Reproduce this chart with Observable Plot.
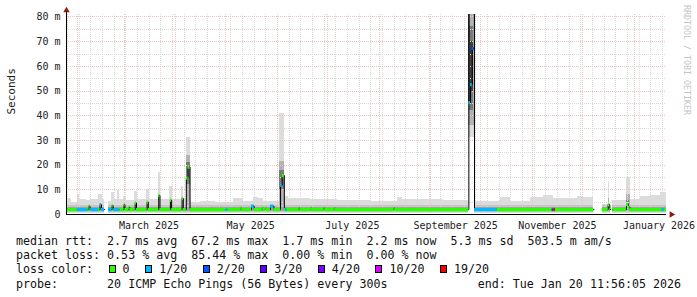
<!DOCTYPE html>
<html><head><meta charset="utf-8">
<script src="https://cdn.jsdelivr.net/npm/d3@7"></script>
<script src="https://cdn.jsdelivr.net/npm/@observablehq/plot@0.6"></script>
<style>
body{margin:0;background:#fff}
#wrap{position:relative;width:697px;height:297px;background:#fff;overflow:hidden}
#legend{position:absolute;left:16px;top:234.3px;width:665px;font-family:"DejaVu Sans Mono",monospace;font-size:11.65px;line-height:14.1px;color:#111;white-space:pre}
.row{display:flex;justify-content:space-between;height:14.1px}
.box{display:inline-block;width:5px;height:6px;border:1px solid #000;margin-left:1.5px}
#wm{position:absolute;left:682px;top:5px;writing-mode:vertical-rl;font-family:"DejaVu Sans Mono",monospace;font-size:8.3px;line-height:10px;color:#c4c4c4;white-space:nowrap}
</style></head>
<body><div id="wrap"><div id="chart"></div><div id="legend"></div><div id="wm">RRDTOOL / TOBI OETIKER</div></div>
<script>
// ---------- data ----------
const windowStart = "2025-01-25T11:56";
const windowEnd = "2026-01-20T11:56";

const yTicks = [0, 10, 20, 30, 40, 50, 60, 70, 80];
const xTickDates = ["2025-03-16", "2025-05-16", "2025-07-16", "2025-09-16", "2025-11-16", "2026-01-16"];
const xTickLabels = ["March 2025", "May 2025", "July 2025", "September 2025", "November 2025", "January 2026"];

const lossLabels = ["0", "1/20", "2/20", "3/20", "4/20", "10/20", "19/20"];

// smoke: [segment start, top of lightest smoke in ms] (null = no data)
const smokeTop = [
  ["2025-01-25T12:00", 6.3], ["2025-01-28T12:00", 5.0], ["2025-02-01", 8.3], ["2025-02-02T08:00", 6.2],
  ["2025-02-06T12:00", 5.6], ["2025-02-08T22:00", 6.2], ["2025-02-13T17:00", 8.0], ["2025-02-16T02:00", 6.0],
  ["2025-02-17T07:00", null], ["2025-02-19T18:00", 5.4], ["2025-02-21T18:00", 8.8], ["2025-02-23T00:00", 6.0],
  ["2025-02-25T02:00", 9.8], ["2025-02-26T08:00", 6.0], ["2025-02-28T17:00", 7.4], ["2025-03-02T12:00", 5.6],
  ["2025-03-07T12:00", 9.4], ["2025-03-09T02:00", 6.0], ["2025-03-14T16:00", 10.1], ["2025-03-16T00:00", 6.0],
  ["2025-03-21T12:00", 17.0], ["2025-03-22T18:00", 6.2], ["2025-03-28T12:00", 11.5], ["2025-03-29T20:00", 6.2],
  ["2025-04-04T12:00", 11.5], ["2025-04-05T20:00", 6.5], ["2025-04-07T09:00", 31.0], ["2025-04-09T22:00", 5.0],
  ["2025-04-15T22:00", 5.4], ["2025-04-25T00:00", 5.0], ["2025-05-05T17:00", 6.3], ["2025-05-11T17:00", 5.4],
  ["2025-05-17T17:00", 6.7], ["2025-05-20T17:00", 6.3], ["2025-05-23T17:00", 5.4], ["2025-06-02T08:00", 41.0],
  ["2025-06-05T07:00", 7.4], ["2025-06-07T17:00", 6.4], ["2025-06-20T22:00", 6.0], ["2025-07-07T02:00", 5.8],
  ["2025-07-26T22:00", 5.4], ["2025-08-12T02:00", 6.7], ["2025-08-15T02:00", 6.0], ["2025-09-08T17:00", 5.6],
  ["2025-09-23T22:00", null], ["2025-09-27T07:00", 5.4], ["2025-10-13T00:00", 6.7], ["2025-10-19T00:00", 5.4],
  ["2025-10-31T00:00", 6.7], ["2025-11-07T17:00", 7.8], ["2025-11-13T17:00", 6.3], ["2025-11-28T02:00", 7.4],
  ["2025-12-01T17:00", 6.7], ["2025-12-07T22:00", null], ["2025-12-12T22:00", 4.0], ["2025-12-16T12:00", 13.5],
  ["2025-12-17T12:00", 4.0], ["2025-12-17T22:00", null], ["2025-12-19T07:00", 5.7], ["2025-12-27T05:00", 14.8],
  ["2025-12-29T22:00", 6.1], ["2026-01-04T22:00", 7.4], ["2026-01-10T22:00", 7.8], ["2026-01-16T22:00", 8.8]
];
const smokeFloor = [0.6];      // lowest ping level (ms)
const midBand = [1.0, 3.6];    // denser smoke (ms)
const coreBand = [1.4, 3.0];   // densest smoke (ms)

// extra smoke at spikes: [from, to, low, high, density 0..3]
const spikeSmoke = [
  ["2025-04-07T09:00", "2025-04-09T15:00", 3.6, 24.0, 1],
  ["2025-04-07T09:00", "2025-04-09T15:00", 12.0, 21.0, 2],
  ["2025-06-02T08:00", "2025-06-05T07:00", 3.6, 21.6, 1],
  ["2025-06-02T08:00", "2025-06-05T07:00", 10.0, 18.0, 2],
  ["2025-09-23T22:00", "2025-09-27T07:00", 31.0, 81.0, 0],
  ["2025-09-23T23:00", "2025-09-27T06:00", 36.0, 81.0, 1],
  ["2025-09-24T05:00", "2025-09-26T22:00", 42.0, 76.0, 2],
  ["2025-09-25T00:00", "2025-09-26T22:00", 50.0, 70.0, 3],
  ["2025-12-16T12:00", "2025-12-17T12:00", 3.6, 6.5, 1],
  ["2025-12-27T05:00", "2025-12-29T22:00", 3.6, 8.0, 1],
  ["2025-12-27T12:00", "2025-12-29T14:00", 2.8, 5.5, 2]
];

// median rtt: [segment start, median ms (null = no data), loss class index (-1 = none)]
const medianSteps = [
  ["2025-01-25T12:00", 2.0, 0], ["2025-02-01", 2.0, 1], ["2025-02-07T10:00", 2.0, 0], ["2025-02-08T00:00", 3.4, 0],
  ["2025-02-08T14:00", 2.0, 0], ["2025-02-09T05:00", 2.0, 1], ["2025-02-13T17:00", 2.0, 0], ["2025-02-14T15:00", 4.0, 1],
  ["2025-02-15T12:00", 2.0, 1], ["2025-02-17T07:00", null, -1], ["2025-02-19T18:00", 2.0, 1], ["2025-02-21T20:00", 3.6, 0],
  ["2025-02-22T12:00", 2.0, 0], ["2025-02-23T00:00", 2.0, 1], ["2025-02-26T14:00", 2.0, 0], ["2025-03-01T00:00", 4.0, 0],
  ["2025-03-01T14:00", 2.0, 0], ["2025-03-04T00:00", 2.9, 0], ["2025-03-04T14:00", 2.0, 0], ["2025-03-07T17:00", 4.7, 0],
  ["2025-03-08T12:00", 2.0, 0], ["2025-03-14T20:00", 5.0, 0], ["2025-03-15T14:00", 2.0, 0], ["2025-03-21T20:00", 7.7, 0],
  ["2025-03-22T14:00", 2.0, 0], ["2025-03-28T20:00", 5.8, 0], ["2025-03-29T14:00", 2.0, 0], ["2025-04-04T20:00", 6.5, 0],
  ["2025-04-05T14:00", 2.0, 0], ["2025-04-07T09:00", 14.8, 0], ["2025-04-08T10:00", 19.2, 0], ["2025-04-09T15:00", 2.0, 0],
  ["2025-05-01T00:00", 2.0, 1], ["2025-05-02T08:00", 2.0, 0], ["2025-05-10T00:00", 2.6, 0], ["2025-05-10T14:00", 2.0, 0],
  ["2025-05-16T12:00", 3.4, 1], ["2025-05-18T02:00", 2.0, 0], ["2025-05-23T00:00", 2.6, 0], ["2025-05-23T14:00", 2.0, 0],
  ["2025-05-24T20:00", 2.6, 0], ["2025-05-25T10:00", 2.0, 0], ["2025-05-27T22:00", 3.4, 1], ["2025-05-29T22:00", 2.0, 0],
  ["2025-06-02T22:00", 11.9, 1], ["2025-06-03T22:00", 15.8, 0], ["2025-06-05T05:00", 2.0, 0], ["2025-06-05T22:00", 2.0, 1],
  ["2025-06-06T22:00", 2.0, 0], ["2025-06-13T22:00", 2.6, 0], ["2025-06-14T12:00", 2.0, 0], ["2025-06-20T22:00", 2.6, 0],
  ["2025-06-21T12:00", 2.0, 0], ["2025-06-28T22:00", 2.6, 0], ["2025-06-29T12:00", 2.0, 0], ["2025-07-05T06:00", 2.6, 0],
  ["2025-07-05T20:00", 2.0, 0], ["2025-08-09T22:00", 2.6, 0], ["2025-08-10T12:00", 2.0, 0],
  ["2025-09-23T22:00", 95.0, -1], ["2025-09-23T23:00", 45.3, 1], ["2025-09-24T22:00", 52.6, 1], ["2025-09-25T23:00", 67.2, 2],
  ["2025-09-27T06:00", 95.0, -1], ["2025-09-27T07:00", 2.0, 1], ["2025-10-11T00:00", 2.0, 0],
  ["2025-11-12T22:00", 2.0, 2], ["2025-11-13T22:00", 2.0, 6], ["2025-11-14T22:00", 2.0, 0],
  ["2025-12-07T22:00", null, -1], ["2025-12-12T22:00", 2.0, 0], ["2025-12-16T12:00", 4.0, 0], ["2025-12-17T12:00", 2.0, 0],
  ["2025-12-17T22:00", null, -1], ["2025-12-19T07:00", 2.0, 0], ["2025-12-27T12:00", 4.0, 0], ["2025-12-28T17:00", 3.0, 0],
  ["2025-12-29T14:00", 2.0, 0], ["2026-01-17T22:00", 2.0, 1], ["2026-01-19T07:00", 2.0, 0]
];

const rttStats = [["2.7 ms", "avg"], ["67.2 ms", "max"], ["1.7 ms", "min"], ["2.2 ms", "now"], ["5.3 ms", "sd"], ["503.5 m", "am/s"]];
const lossStats = [["0.53 %", "avg"], ["85.44 %", "max"], ["0.00 %", "min"], ["0.00 %", "now"]];
const probeText = "20 ICMP Echo Pings (56 Bytes) every 300s";
const endText = "end: Tue Jan 20 11:56:05 2026";

// ---------- styles ----------
const lossColors = ["#26ff00", "#00b8ff", "#0059ff", "#5e00ff", "#7e00ff", "#dd00ff", "#ff0000"];
const shades = ["#dcdcdc", "#b2b2b2", "#7a7a7a", "#404040"];

// ---------- build ----------
const P = s => new Date(s + (s.length === 10 ? "T00:00:00Z" : ":00Z"));
const start = P(windowStart), end = P(windowEnd);
const segs = rows => rows.map((r, i) => ({t1: P(r[0]), t2: i + 1 < rows.length ? P(rows[i + 1][0]) : end, v: r[1], loss: r[2]}));
const smoke = segs(smokeTop).filter(d => d.v != null);
const med = segs(medianSteps);
const medLine = [];
for (const d of med) {
  if (d.v == null) medLine.push({t: d.t1, v: NaN});
  else medLine.push({t: d.t1, v: d.v}, {t: d.t2, v: d.v});
}
const spikeRows = spikeSmoke.map(([a, b, lo, hi, s]) => ({x1: P(a), x2: P(b), lo, hi, s}));
const labelMap = new Map(xTickDates.map((d, i) => [+P(d), xTickLabels[i]]));
const months = d3.utcMonth.range(start, end);
const weeks = d3.utcSunday.range(start, end);
const majorY = yTicks.filter(v => v > 0);
const minorY = yTicks.map(v => v + 5).filter(v => v < 81);

const crisp = {shapeRendering: "crispEdges"};
const chart = Plot.plot({
  width: 697, height: 233, marginLeft: 66, marginRight: 31, marginTop: 14, marginBottom: 19,
  style: {fontFamily: "'DejaVu Sans Mono', monospace", fontSize: "10px", background: "#fff", color: "#222", overflow: "visible"},
  x: {type: "utc", domain: [start, end]},
  y: {domain: [0, 81]},
  marks: [
    Plot.rect(smoke, {x1: "t1", x2: "t2", y1: () => smokeFloor[0], y2: "v", fill: shades[0], clip: true, ...crisp}),
    Plot.rect(smoke, {x1: "t1", x2: "t2", y1: () => midBand[0], y2: () => midBand[1], fill: "#c6c6c6", ...crisp}),
    Plot.rect(smoke, {x1: "t1", x2: "t2", y1: () => coreBand[0], y2: () => coreBand[1], fill: "#a4a4a4", ...crisp}),
    Plot.rect(spikeRows, {x1: "x1", x2: "x2", y1: "lo", y2: "hi", fill: d => shades[d.s], clip: true, ...crisp}),
    Plot.gridX(weeks, {stroke: "#dadada", strokeOpacity: 1, strokeDasharray: "1,1", ...crisp}),
    Plot.gridY(minorY, {stroke: "#dadada", strokeOpacity: 1, strokeDasharray: "1,1", ...crisp}),
    Plot.gridX(months, {stroke: "#f2c2c2", strokeOpacity: 1, strokeDasharray: "1,1", ...crisp}),
    Plot.gridY(majorY, {stroke: "#f2c2c2", strokeOpacity: 1, strokeDasharray: "1,1", ...crisp}),
    Plot.line(medLine, {x: "t", y: "v", stroke: "#000", strokeWidth: 1, clip: true}),
    Plot.ruleY(med.filter(d => d.v != null && d.loss >= 0), {x1: "t1", x2: "t2", y: "v", stroke: d => lossColors[d.loss], strokeWidth: 3.3, clip: true}),
    Plot.ruleY([0], {stroke: "#000", ...crisp}),
    Plot.ruleX([start], {y1: () => 0, y2: () => 82.5, stroke: "#000", ...crisp}),
    Plot.dot([end], {x: d => d, y: () => 0, symbol: "triangle", rotate: 90, dx: 5, r: 2.4, fill: "#8b1a1a", stroke: "none"}),
    Plot.dot([start], {x: d => d, y: () => 81, symbol: "triangle", dy: -4, r: 2.4, fill: "#8b1a1a", stroke: "none"}),
    Plot.axisX(xTickDates.map(P), {tickSize: 0, tickPadding: 7, tickFormat: d => labelMap.get(+d), fill: "#222", label: null}),
    Plot.axisY(yTicks, {tickSize: 0, tickPadding: 6, tickFormat: d => d === 0 ? "0" : d + " m", fill: "#222", label: null}),
    Plot.text(["Seconds"], {text: d => d, frameAnchor: "left", dx: -55, rotate: -90, fontSize: 11, fill: "#222"})
  ]
});
document.getElementById("chart").appendChild(chart);

// ---------- legend ----------
const esc = s => s.replace(/&/g, "&amp;").replace(/</g, "&lt;");
const row1 = "median rtt:  " + rttStats.map(([v, k]) => v + " " + k).join("  ");
const row2 = "packet loss: " + lossStats.map(([v, k]) => v + " " + k).join("  ");
const row3 = "loss color:  " + lossLabels.map((l, i) =>
  `<span class="box" style="background:${lossColors[i]}"></span> ${esc(l)}`).join("  ");
const row4l = "probe:       " + probeText;
document.getElementById("legend").innerHTML =
  `<div class="row"><span>${esc(row1)}</span></div>` +
  `<div class="row"><span>${esc(row2)}</span></div>` +
  `<div class="row"><span>${row3}</span></div>` +
  `<div class="row"><span>${esc(row4l)}</span><span>${esc(endText)}</span></div>`;
</script></body></html>
